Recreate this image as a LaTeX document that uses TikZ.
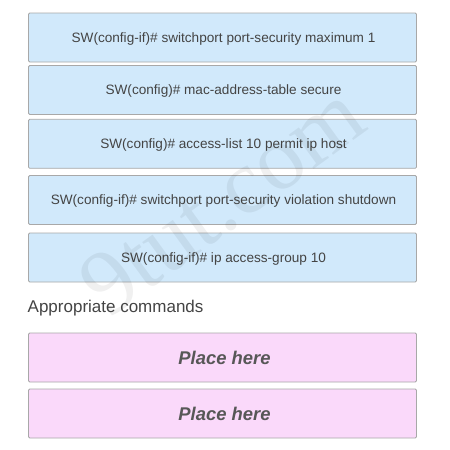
\documentclass[tikz,border=0pt]{standalone}
\usepackage{fontspec}
\setmainfont{Liberation Sans}
\newfontfamily\wmfont{Liberation Serif}
\definecolor{boxblue}{RGB}{209,233,251}
\definecolor{boxpink}{RGB}{250,217,250}
\definecolor{boxline}{RGB}{168,168,168}
\definecolor{txtgray}{RGB}{68,68,68}
\begin{document}
\begin{tikzpicture}[x=1pt,y=-1pt,
  cmdbox/.style={draw=boxline, line width=0.8pt, fill=boxblue, rounded corners=1.2pt,
    minimum width=388pt, minimum height=49pt, inner sep=0pt,
    font=\fontsize{13.6pt}{16pt}\selectfont, text=txtgray, text height=9.7pt, text depth=0pt},
  slotbox/.style={cmdbox, fill=boxpink, font=\fontsize{18.4pt}{21pt}\selectfont\bfseries\itshape,
    text=txtgray!90, text height=13.2pt}
]
\useasboundingbox (0,0) rectangle (450,450);
\fill[white] (0,0) rectangle (450,450);
\node[cmdbox] (b1) at (222.5,37.5) {\hspace{2pt}SW(config-if)\# switchport port-security maximum 1};
\node[cmdbox] (b2) at (222.5,90) {\hspace{2pt}SW(config)\# mac-address-table secure};
\node[cmdbox] (b3) at (222.5,143.8) {\hspace{2pt}SW(config)\# access-list 10 permit ip host};
\node[cmdbox] (b4) at (222.5,200) {\hspace{2pt}SW(config-if)\# switchport port-security violation shutdown};
\node[cmdbox] (b5) at (222.5,257.5) {\hspace{2pt}SW(config-if)\# ip access-group 10};
\node[anchor=base west, inner sep=0pt, font=\fontsize{17pt}{20pt}\selectfont, text=txtgray] (lbl) at (27.5,312.5) {Appropriate commands};
\node[slotbox] (p1) at (222.5,357.5) {\hspace{4pt}Place here};
\node[slotbox] (p2) at (222.5,413.5) {\hspace{4pt}Place here};
\node[rotate=36, font=\wmfont\fontsize{92pt}{96pt}\selectfont, text=black, opacity=0.06] (wm) at (222,200) {9tut.com};
\end{tikzpicture}
\end{document}
